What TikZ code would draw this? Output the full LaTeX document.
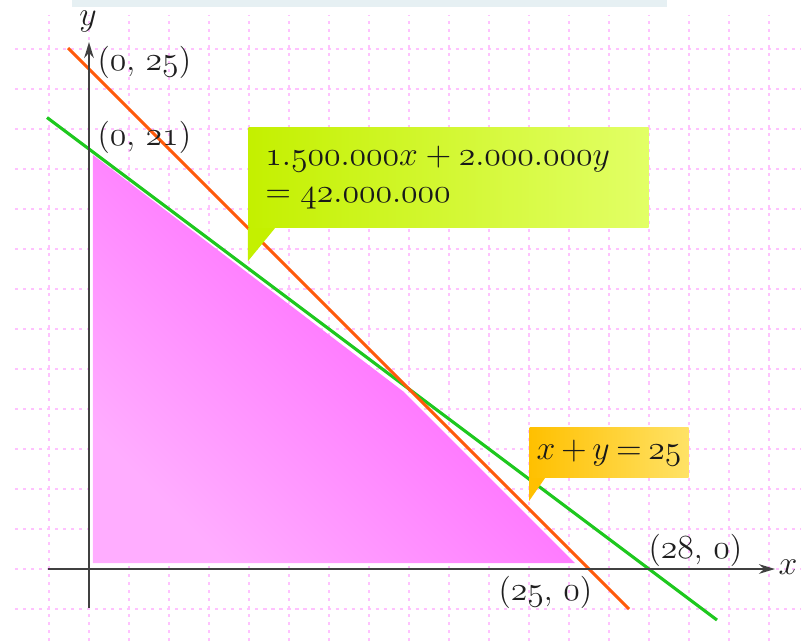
\documentclass[tikz,border=0pt]{standalone}
\usepackage{xcolor}
\usepackage{tikz}
\usetikzlibrary{positioning,arrows.meta}
\definecolor{gridPink}{HTML}{FFC2FF}
\definecolor{axisGray}{HTML}{404040}
\definecolor{lineOrange}{HTML}{FF5A0A}
\definecolor{lineGreen}{HTML}{1EC81E}
\definecolor{limeDark}{HTML}{C4F000}
\definecolor{limeLight}{HTML}{E2FF66}
\definecolor{goldDark}{HTML}{FFC000}
\definecolor{goldLight}{HTML}{FFE266}
\definecolor{regionDark}{HTML}{FF55FF}
\definecolor{regionLight}{HTML}{FFADFF}
\definecolor{bandBlue}{HTML}{E6F0F3}
\newcommand{\osn}[1]{\ensuremath{\mathnormal{#1}}}

\begin{document}
\begin{tikzpicture}[x=0.25cm, y=0.25cm, font=\fontsize{11.5}{13.5}\selectfont,
  gridline/.style={gridPink, line width=0.9pt, dash pattern=on 1.1pt off 1.75pt},
  axis/.style={axisGray, line width=0.7pt, -{Stealth[length=2mm,width=1.2mm]}},
  constraint/.style={line width=1.1pt},
  lbl/.style={anchor=west, inner sep=0pt, text=black!88},
  eqbox/.style={anchor=north west, inner xsep=0.21cm, inner ysep=0pt, text=black!90, align=left,
    font=\fontsize{12}{13.5}\selectfont},
  sumbox/.style={anchor=north west, inner sep=0pt, text=black!90,
    execute at begin node={\medmuskip=3mu\relax\thickmuskip=3.5mu\relax}}]
\useasboundingbox (-4.45,-3.6) rectangle (35.6,28.45);
\fill[bandBlue] (-0.85,28.45) rectangle (28.9,28.1);
\foreach \gx in {-2,0,...,34} \draw[gridline] (\gx,-3.6) -- (\gx,27.7);
\foreach \gy in {-2,0,...,26} \draw[gridline] (-3.7,\gy) -- (35.6,\gy);
\shade[top color=regionDark, bottom color=regionLight, shading angle=-45]
  (0.2,0.3) -- (0.2,20.7) -- (15.75,8.85) -- (24.3,0.3) -- cycle;
\draw[constraint, lineGreen] (-2.1,22.575) -- (31.4,-2.55);
\draw[constraint, lineOrange] (-1.05,26.05) -- (27,-2);
\draw[axis] (-2.05,0) -- (34.3,0);
\draw[axis] (0,-1.95) -- (0,26.35);
\node[text=black!88] (ylbl) at (-0.05,27.35) {$y$};
\node[text=black!88] (xlbl) at (34.95,0.1) {$x$};
\node[lbl] (p025) at (0.4,25.35) {(\osn{0}, \osn{25})};
\node[lbl] (p021) at (0.4,21.6) {(\osn{0}, \osn{21})};
\node[lbl] (p280) at (27.95,0.95) {(\osn{28}, \osn{0})};
\node[lbl] (p250) at (20.45,-1.15) {(\osn{25}, \osn{0})};
\node[eqbox, left color=limeDark, right color=limeLight, minimum width=5cm, minimum height=1.25cm, text width=4.58cm]
  (eq) at (7.95,22.1) {$\osn{1.500.000}x + \osn{2.000.000}y$\\$= \osn{42.000.000}$};
\fill[limeDark] (eq.south west) -- ++(1.35,0) -- ++(-1.35,-1.65) -- cycle;
\node[sumbox, left color=goldDark, right color=goldLight, minimum width=1.9875cm, minimum height=0.625cm]
  (sum) at (22,7.1) {$x + y = \osn{25}$};
\fill[goldDark] (sum.south west) -- ++(0.8,0) -- ++(-0.8,-1.15) -- cycle;
\end{tikzpicture}
\end{document}
